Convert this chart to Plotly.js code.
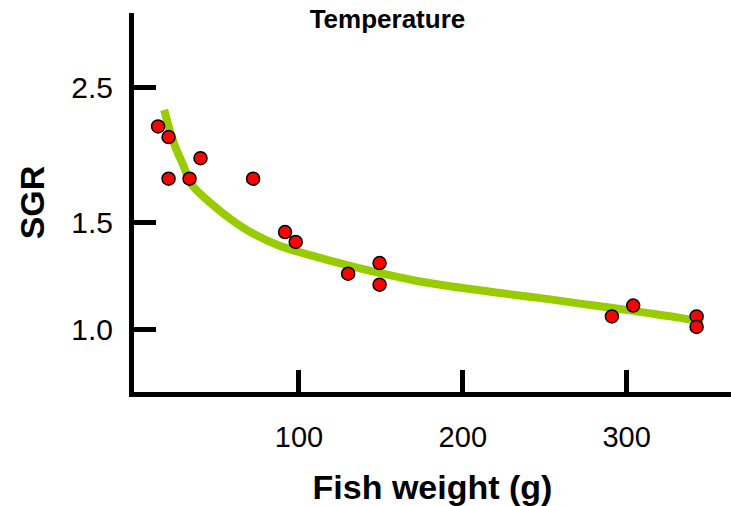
<!DOCTYPE html>
<html>
<head>
<meta charset="utf-8">
<script src="https://cdn.plot.ly/plotly-3.0.1.min.js"></script>
<style>html,body{margin:0;padding:0;background:#fff;}#chart{width:731px;height:506px;}</style>
</head>
<body>
<div id="chart"></div>
<script>
// Observed data points (fish weight in g, SGR)
const weightObs = [14, 20.4, 20.4, 33.2, 39.9, 72, 91.5, 98, 130, 149.2, 149.2, 291, 304, 342.7, 342.7];
const sgrObs = [2.157, 2.072, 1.770, 1.770, 1.913, 1.770, 1.447, 1.394, 1.236, 1.287, 1.186, 1.052, 1.096, 1.052, 1.011];

// Fitted curve
const weightFit = [17.7, 23.6, 29.7, 33.8, 46.0, 66.3, 86.6, 113.0, 129.3, 149.6, 169.8, 190.3, 210.6, 230.7, 251.3, 271.6, 291.7, 312.3, 332.6, 346.6];
const sgrFit = [2.296, 2.025, 1.854, 1.741, 1.615, 1.469, 1.379, 1.312, 1.277, 1.239, 1.206, 1.181, 1.161, 1.142, 1.124, 1.104, 1.086, 1.066, 1.046, 1.029];

const xTickVals = [100, 200, 300];
const xTickText = ['100', '200', '300'];
const yTickVals = [1.0, 1.5, 2.5];
const yTickText = ['1.0', '1.5', '2.5'];

const traces = [
  {
    x: weightFit, y: sgrFit, type: 'scatter', mode: 'lines',
    line: {color: '#99cc00', width: 8, shape: 'spline', smoothing: 1},
    hoverinfo: 'skip', showlegend: false
  },
  {
    x: weightObs, y: sgrObs, type: 'scatter', mode: 'markers',
    marker: {color: '#ff0000', size: 13, line: {color: '#000000', width: 1.5}},
    showlegend: false
  }
];

const layout = {
  width: 731, height: 506,
  margin: {l: 133.5, r: 0, t: 13, b: 113.5},
  paper_bgcolor: '#ffffff', plot_bgcolor: '#ffffff',
  showlegend: false,
  title: {
    text: '<b>Temperature</b>',
    font: {family: 'Liberation Sans, Arial, sans-serif', size: 26, color: '#000'},
    xref: 'container', x: 0.530, xanchor: 'center',
    yref: 'container', y: 1 - 19/506, yanchor: 'middle'
  },
  xaxis: {
    range: [-0.7, 363.7],
    showgrid: false, zeroline: false,
    showline: true, linecolor: '#000', linewidth: 5,
    ticks: 'inside', ticklen: 22, tickwidth: 5, tickcolor: '#000',
    tickvals: xTickVals, ticktext: xTickText,
    tickfont: {family: 'Liberation Sans, Arial, sans-serif', size: 29, color: '#000'},
    ticklabelstandoff: 15,
    title: {
      text: '<b>Fish weight (g)</b>',
      font: {family: 'Liberation Sans, Arial, sans-serif', size: 34, color: '#000'},
      standoff: 26
    }
  },
  yaxis: {
    type: 'log',
    range: [-0.1021, 0.520],
    showgrid: false, zeroline: false,
    showline: true, linecolor: '#000', linewidth: 5,
    ticks: 'inside', ticklen: 22, tickwidth: 5, tickcolor: '#000',
    tickvals: yTickVals, ticktext: yTickText,
    tickfont: {family: 'Liberation Sans, Arial, sans-serif', size: 30, color: '#000'},
    ticklabelstandoff: 10,
    title: {
      text: '<b>SGR</b>',
      font: {family: 'Liberation Sans, Arial, sans-serif', size: 34, color: '#000'},
      standoff: 18
    }
  }
};

Plotly.newPlot('chart', traces, layout, {displayModeBar: false, staticPlot: true});
</script>
</body>
</html>
